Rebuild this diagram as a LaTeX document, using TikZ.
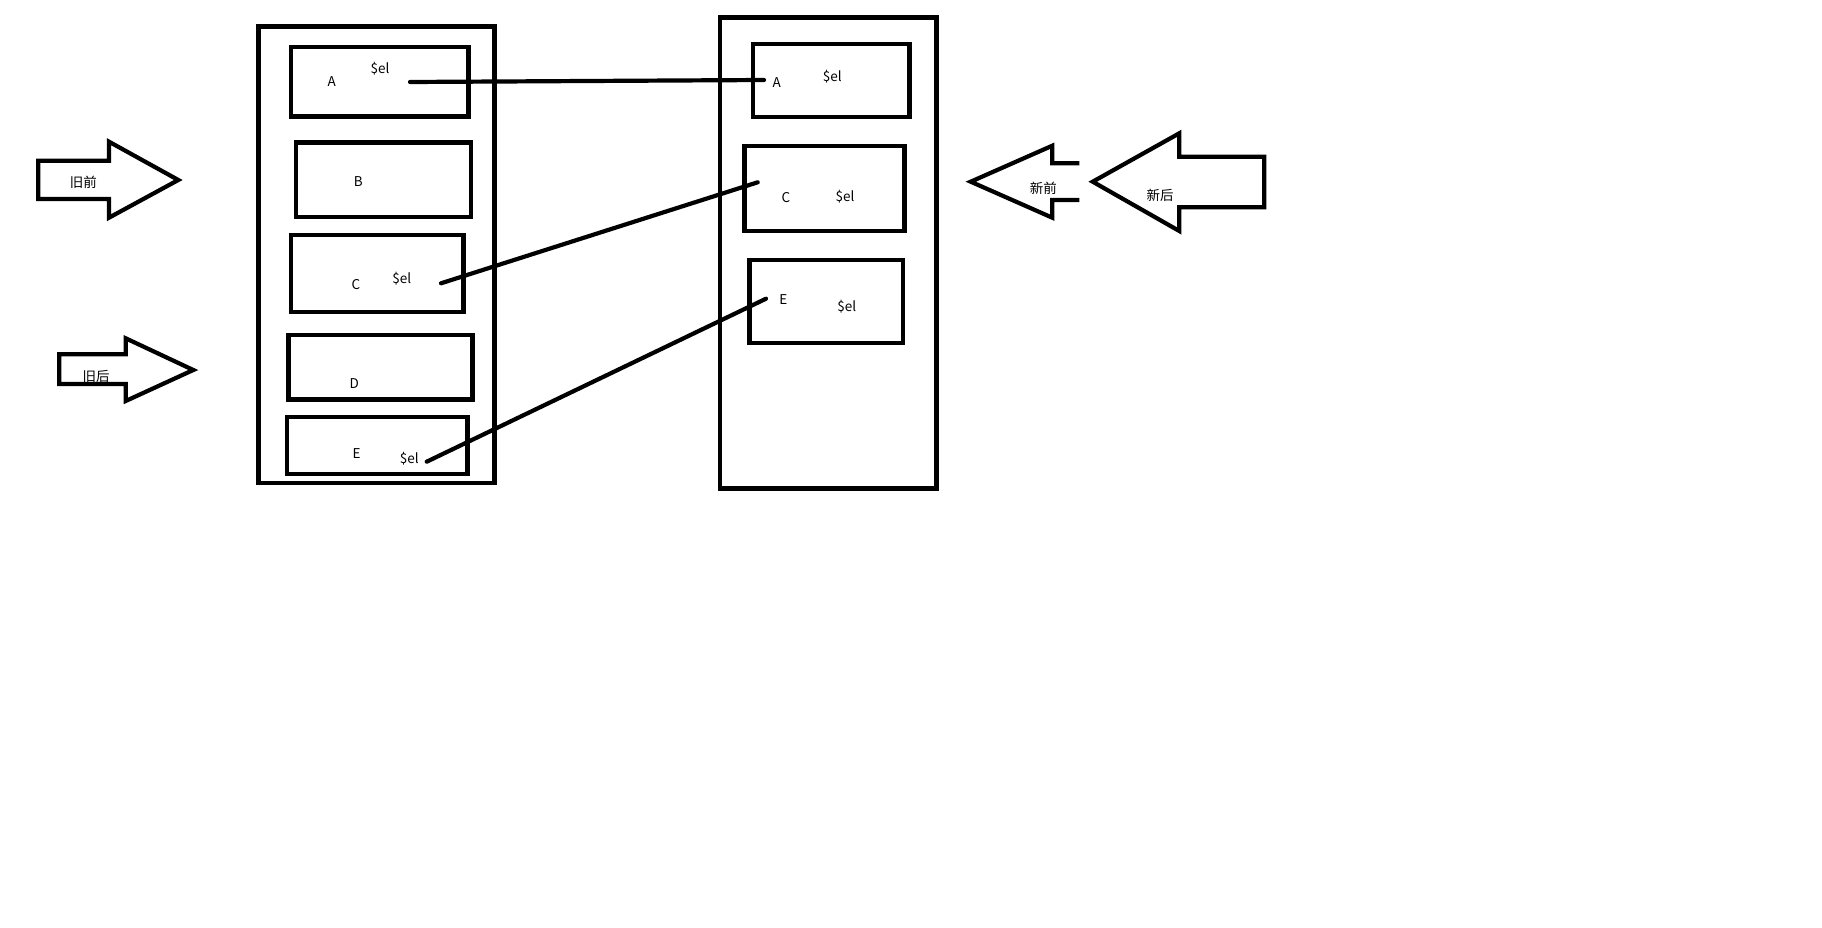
\documentclass[tikz,border=0pt]{standalone}
\usepackage{fontspec}
\newfontfamily\cjk{Noto Sans CJK SC}
\usetikzlibrary{fit}
\begin{document}
\begin{tikzpicture}[x=1pt,y=-1pt,
  frame/.style={draw=black,line width=4.6pt,inner sep=0pt,outer sep=0pt},
  item/.style={draw=black,line width=4.4pt,inner sep=0pt,outer sep=0pt},
  lbl/.style={font=\cjk\fontsize{13.5}{15}\selectfont,text=black,inner sep=0pt},
  blockarrow/.style={draw=black,line width=4.2pt,line join=miter},
  link/.style={draw=black,line width=4.2pt,line cap=round,line join=round}]
\useasboundingbox (0,0) rectangle (1822,928);
\fill[white] (0,0) rectangle (1822,928);

% old list
\node[frame,fit={(258.3,26.7) (494.3,483)}] (oldlist) {};
\node[item,fit={(290.7,47.3) (468.3,116.7)}] (oA) {};
\node[item,fit={(295.7,142.7) (471,216.7)}] (oB) {};
\node[item,fit={(290.7,235) (463.3,311.7)}] (oC) {};
\node[item,fit={(288.3,335) (472.3,399.3)}] (oD) {};
\node[item,fit={(286.7,416.7) (467.3,474)}] (oE) {};

\node[lbl] (oAl) at (331.7,81.7) {A};
\node[lbl] (oAel) at (380,68.3) {\$el};
\node[lbl] (oBl) at (358.3,181.7) {B};
\node[lbl] (oCl) at (356,285) {C};
\node[lbl] (oCel) at (401.7,278.3) {\$el};
\node[lbl] (oDl) at (354.3,383.3) {D};
\node[lbl] (oEl) at (356.7,453.3) {E};
\node[lbl] (oEel) at (409.3,458.3) {\$el};

% new list
\node[frame,fit={(720,17.3) (936.7,488.3)}] (newlist) {};
\node[item,fit={(752.7,44.3) (909.3,117.3)}] (nA) {};
\node[item,fit={(744.3,146) (904.3,231)}] (nC) {};
\node[item,fit={(749.3,260) (902.7,342.7)}] (nE) {};

\node[lbl] (nAl) at (776.7,82.7) {A};
\node[lbl] (nAel) at (832.3,76.7) {\$el};
\node[lbl] (nCl) at (786,197.3) {C};
\node[lbl] (nCel) at (845,196.7) {\$el};
\node[lbl] (nEl) at (783.3,300) {E};
\node[lbl] (nEel) at (846.7,306.7) {\$el};

% links between the el references
\coordinate (pA1) at (410,82);
\coordinate (pA2) at (764,80);
\coordinate (pC1) at (441,283.3);
\coordinate (pC2) at (757.7,182.3);
\coordinate (pE1) at (426.7,461.7);
\coordinate (pE2) at (766,298.7);
\draw[link] (pA1) -- (500,81.5) -- (675,80.5) -- (pA2);
\draw[link] (pC1) -- (pC2);
\draw[link] (pE1) -- (pE2);

% pointer arrows
\draw[blockarrow] (38.3,160.7) -- (109,160.7) -- (109,141.7) -- (178.3,180)
  -- (109,217.7) -- (109,199) -- (38.3,199) -- cycle;
\node[lbl] (oldfront) at (83.3,182.3) {旧前};

\draw[blockarrow] (59.3,354.3) -- (125.7,354.3) -- (125.7,338.3) -- (193.3,370)
  -- (125.7,401) -- (125.7,384) -- (59.3,384) -- cycle;
\node[lbl] (oldback) at (96,376) {旧后};

\draw[blockarrow] (1079.3,163.3) -- (1052.3,163.3) -- (1052.3,145.7) -- (970.7,181.7)
  -- (1052.3,217.7) -- (1052.3,200) -- (1079.3,200);
\node[lbl] (newfront) at (1043.3,188.3) {新前};

\draw[blockarrow] (1264.3,156.7) -- (1179.3,156.7) -- (1179.3,133.3) -- (1092.7,181.7)
  -- (1179.3,231) -- (1179.3,207.3) -- (1264.3,207.3) -- cycle;
\node[lbl] (newback) at (1160,195) {新后};
\end{tikzpicture}
\end{document}
